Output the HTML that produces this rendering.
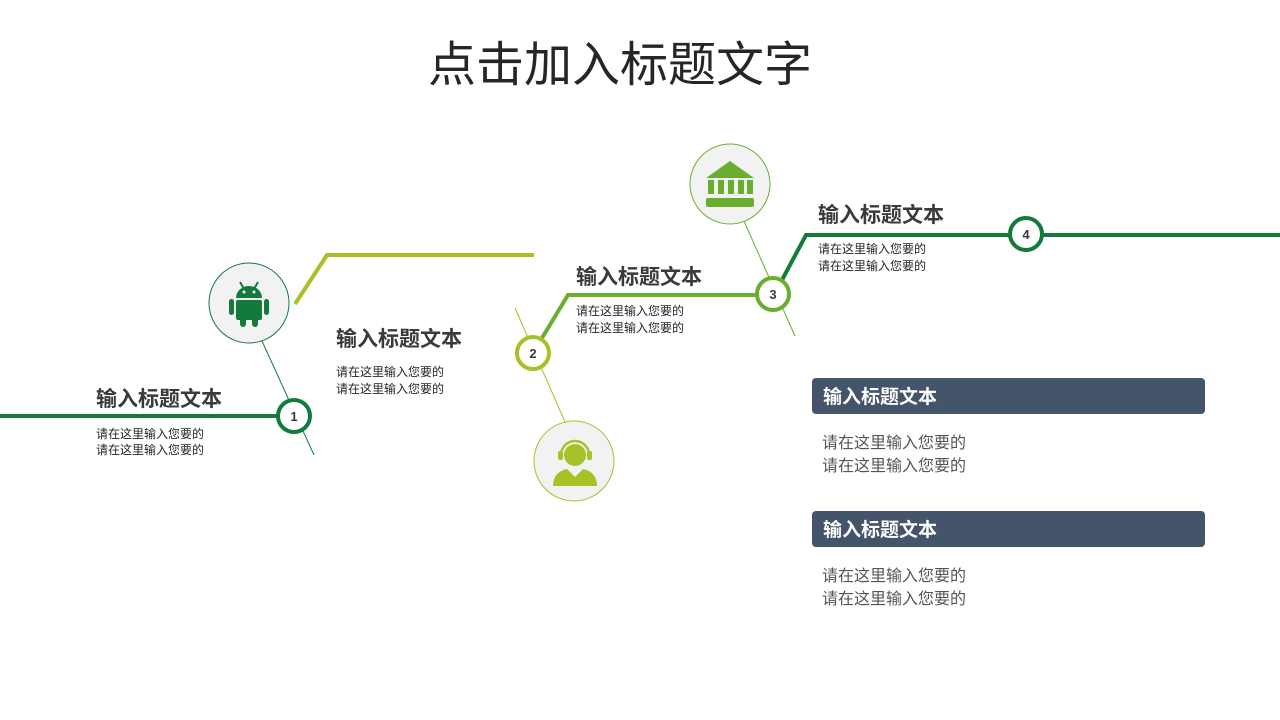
<!DOCTYPE html>
<html><head><meta charset="utf-8"><style>
html,body{margin:0;padding:0;background:#fff;}
svg{display:block;font-family:"Liberation Sans","Noto Sans CJK SC",sans-serif;}
</style></head><body>
<svg width="1280" height="720" viewBox="0 0 1280 720">
<text x="620" y="81" font-size="48" fill="#262626" text-anchor="middle">点击加入标题文字</text>

<line x1="262" y1="341" x2="314" y2="455" stroke="#137a3c" stroke-width="1"/>
<line x1="515" y1="308" x2="566" y2="424" stroke="#a5c326" stroke-width="1"/>
<line x1="744" y1="221" x2="795" y2="336" stroke="#6aae2f" stroke-width="1"/>

<polyline points="0,416 278,416" fill="none" stroke="#137a3c" stroke-width="4"/>
<polyline points="295,304 327,255 534,255" fill="none" stroke="#a5c326" stroke-width="4"/>
<polyline points="542,338 568,295 757,295" fill="none" stroke="#6aae2f" stroke-width="4"/>
<polyline points="782,280 806,235 1010,235" fill="none" stroke="#137a3c" stroke-width="4"/>
<line x1="1042" y1="235" x2="1280" y2="235" stroke="#137a3c" stroke-width="4"/>

<circle cx="294" cy="416" r="16" fill="#fff" stroke="#137a3c" stroke-width="4"/>
<text x="294" y="421" font-size="13" font-weight="bold" fill="#3a3a3a" text-anchor="middle">1</text>
<circle cx="533" cy="353" r="16" fill="#fff" stroke="#a5c326" stroke-width="4"/>
<text x="533" y="358" font-size="13" font-weight="bold" fill="#3a3a3a" text-anchor="middle">2</text>
<circle cx="773" cy="294" r="16" fill="#fff" stroke="#6aae2f" stroke-width="4"/>
<text x="773" y="299" font-size="13" font-weight="bold" fill="#3a3a3a" text-anchor="middle">3</text>
<circle cx="1026" cy="234" r="16" fill="#fff" stroke="#137a3c" stroke-width="4"/>
<text x="1026" y="239" font-size="13" font-weight="bold" fill="#3a3a3a" text-anchor="middle">4</text>

<circle cx="249" cy="303" r="40" fill="#f2f2f2" stroke="#137a3c" stroke-width="1"/>
<g fill="#137a3c">
  <path d="M236,298 a13,12 0 0 1 26,0 z"/>
  <line x1="240" y1="282" x2="244" y2="289" stroke="#137a3c" stroke-width="2"/>
  <line x1="258" y1="282" x2="254" y2="289" stroke="#137a3c" stroke-width="2"/>
  <rect x="236" y="300" width="26" height="20" rx="2"/>
  <rect x="229" y="299" width="5" height="16" rx="2.5"/>
  <rect x="264" y="299" width="5" height="16" rx="2.5"/>
  <rect x="240" y="316" width="6" height="11" rx="3"/>
  <rect x="252" y="316" width="6" height="11" rx="3"/>
</g>
<circle cx="244" cy="292" r="1.5" fill="#f2f2f2"/><circle cx="254" cy="292" r="1.5" fill="#f2f2f2"/>

<circle cx="574" cy="461" r="40" fill="#f2f2f2" stroke="#a5c326" stroke-width="1"/>
<g fill="#a5c326">
  <circle cx="575" cy="455" r="11"/>
  <path d="M553,486 q0,-14 14,-17 l8,8 l8,-8 q14,3 14,17 z"/>
  <path d="M561,455 a14,14 0 0 1 28,0" fill="none" stroke="#a5c326" stroke-width="2.5"/>
  <rect x="558" y="451" width="5" height="9" rx="2"/>
  <rect x="587" y="451" width="5" height="9" rx="2"/>
</g>

<circle cx="730" cy="184" r="40" fill="#f2f2f2" stroke="#6aae2f" stroke-width="1"/>
<g fill="#6aae2f">
  <path d="M706,178 L730,161 L754,178 z"/>
  <rect x="708" y="180" width="6" height="14"/>
  <rect x="718" y="180" width="6" height="14"/>
  <rect x="728" y="180" width="6" height="14"/>
  <rect x="738" y="180" width="6" height="14"/>
  <rect x="747" y="180" width="6" height="14"/>
  <rect x="706" y="198" width="48" height="9" rx="2"/>
</g>

<g font-size="21" font-weight="bold" fill="#3a3a3a">
  <text x="96" y="406">输入标题文本</text>
  <text x="336" y="346">输入标题文本</text>
  <text x="576" y="284">输入标题文本</text>
  <text x="818" y="222">输入标题文本</text>
</g>
<g font-size="12" fill="#262626">
  <text x="96" y="438">请在这里输入您要的</text>
  <text x="96" y="454">请在这里输入您要的</text>
  <text x="336" y="376">请在这里输入您要的</text>
  <text x="336" y="393">请在这里输入您要的</text>
  <text x="576" y="315">请在这里输入您要的</text>
  <text x="576" y="332">请在这里输入您要的</text>
  <text x="818" y="253">请在这里输入您要的</text>
  <text x="818" y="270">请在这里输入您要的</text>
</g>

<rect x="812" y="378" width="393" height="36" rx="4" fill="#44546a"/>
<text x="823" y="403" font-size="19" font-weight="bold" fill="#fff">输入标题文本</text>
<text x="822" y="448" font-size="16" fill="#555">请在这里输入您要的</text>
<text x="822" y="471" font-size="16" fill="#555">请在这里输入您要的</text>
<rect x="812" y="511" width="393" height="36" rx="4" fill="#44546a"/>
<text x="823" y="536" font-size="19" font-weight="bold" fill="#fff">输入标题文本</text>
<text x="822" y="581" font-size="16" fill="#555">请在这里输入您要的</text>
<text x="822" y="604" font-size="16" fill="#555">请在这里输入您要的</text>
</svg>
</body></html>
